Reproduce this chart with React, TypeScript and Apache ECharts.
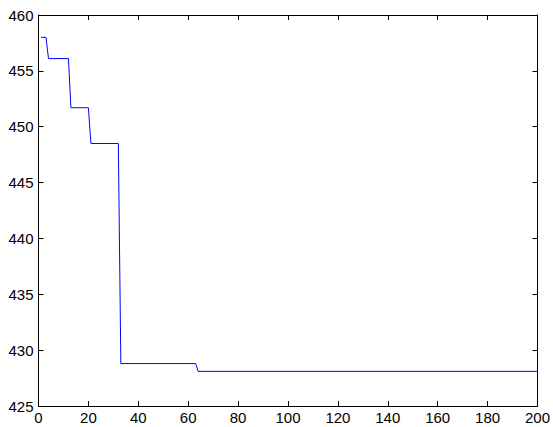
import React, { useEffect, useRef } from "react";
import * as echarts from "echarts";

const iterations = [1, 3, 4, 12, 13, 20, 21, 32, 33, 63, 64, 200];
const values = [458.0, 458.0, 456.1, 456.1, 451.7, 451.7, 448.5, 448.5, 428.8, 428.8, 428.1, 428.1];
const xTicks = { min: 0, max: 200, interval: 20 };
const yTicks = { min: 425, max: 460, interval: 5 };

export default function App() {
  const ref = useRef<HTMLDivElement>(null);
  useEffect(() => {
    if (!ref.current) return;
    const chart = echarts.init(ref.current, null, { renderer: "svg" });
    const font = { fontFamily: "Liberation Sans, Arial, sans-serif", fontSize: 15, color: "#000" };
    const axisCommon = {
      type: "value" as const,
      axisLine: { show: true, onZero: false, lineStyle: { color: "#000", width: 1 } },
      axisTick: { show: true, inside: true, length: 5, lineStyle: { color: "#000", width: 1 } },
      splitLine: { show: false },
    };
    chart.setOption({
      animation: false,
      backgroundColor: "#fff",
      grid: { left: 38.5, top: 15, right: 13, bottom: 21, containLabel: false },
      xAxis: [
        { ...axisCommon, position: "bottom", ...xTicks, axisLabel: { ...font, margin: 4 } },
        { ...axisCommon, position: "top", ...xTicks, axisLabel: { show: false } },
      ],
      yAxis: [
        { ...axisCommon, position: "left", ...yTicks, axisLabel: { ...font, margin: 5 } },
        { ...axisCommon, position: "right", ...yTicks, axisLabel: { show: false } },
      ],
      series: [
        {
          type: "line",
          data: iterations.map((x, i) => [x, values[i]]),
          showSymbol: false,
          lineStyle: { color: "#0000ff", width: 1 },
          itemStyle: { color: "#0000ff" },
          silent: true,
        },
      ],
    });
    return () => chart.dispose();
  }, []);
  return <div ref={ref} style={{ position: "fixed", left: 0, top: 0, width: 553, height: 427 }} />;
}
